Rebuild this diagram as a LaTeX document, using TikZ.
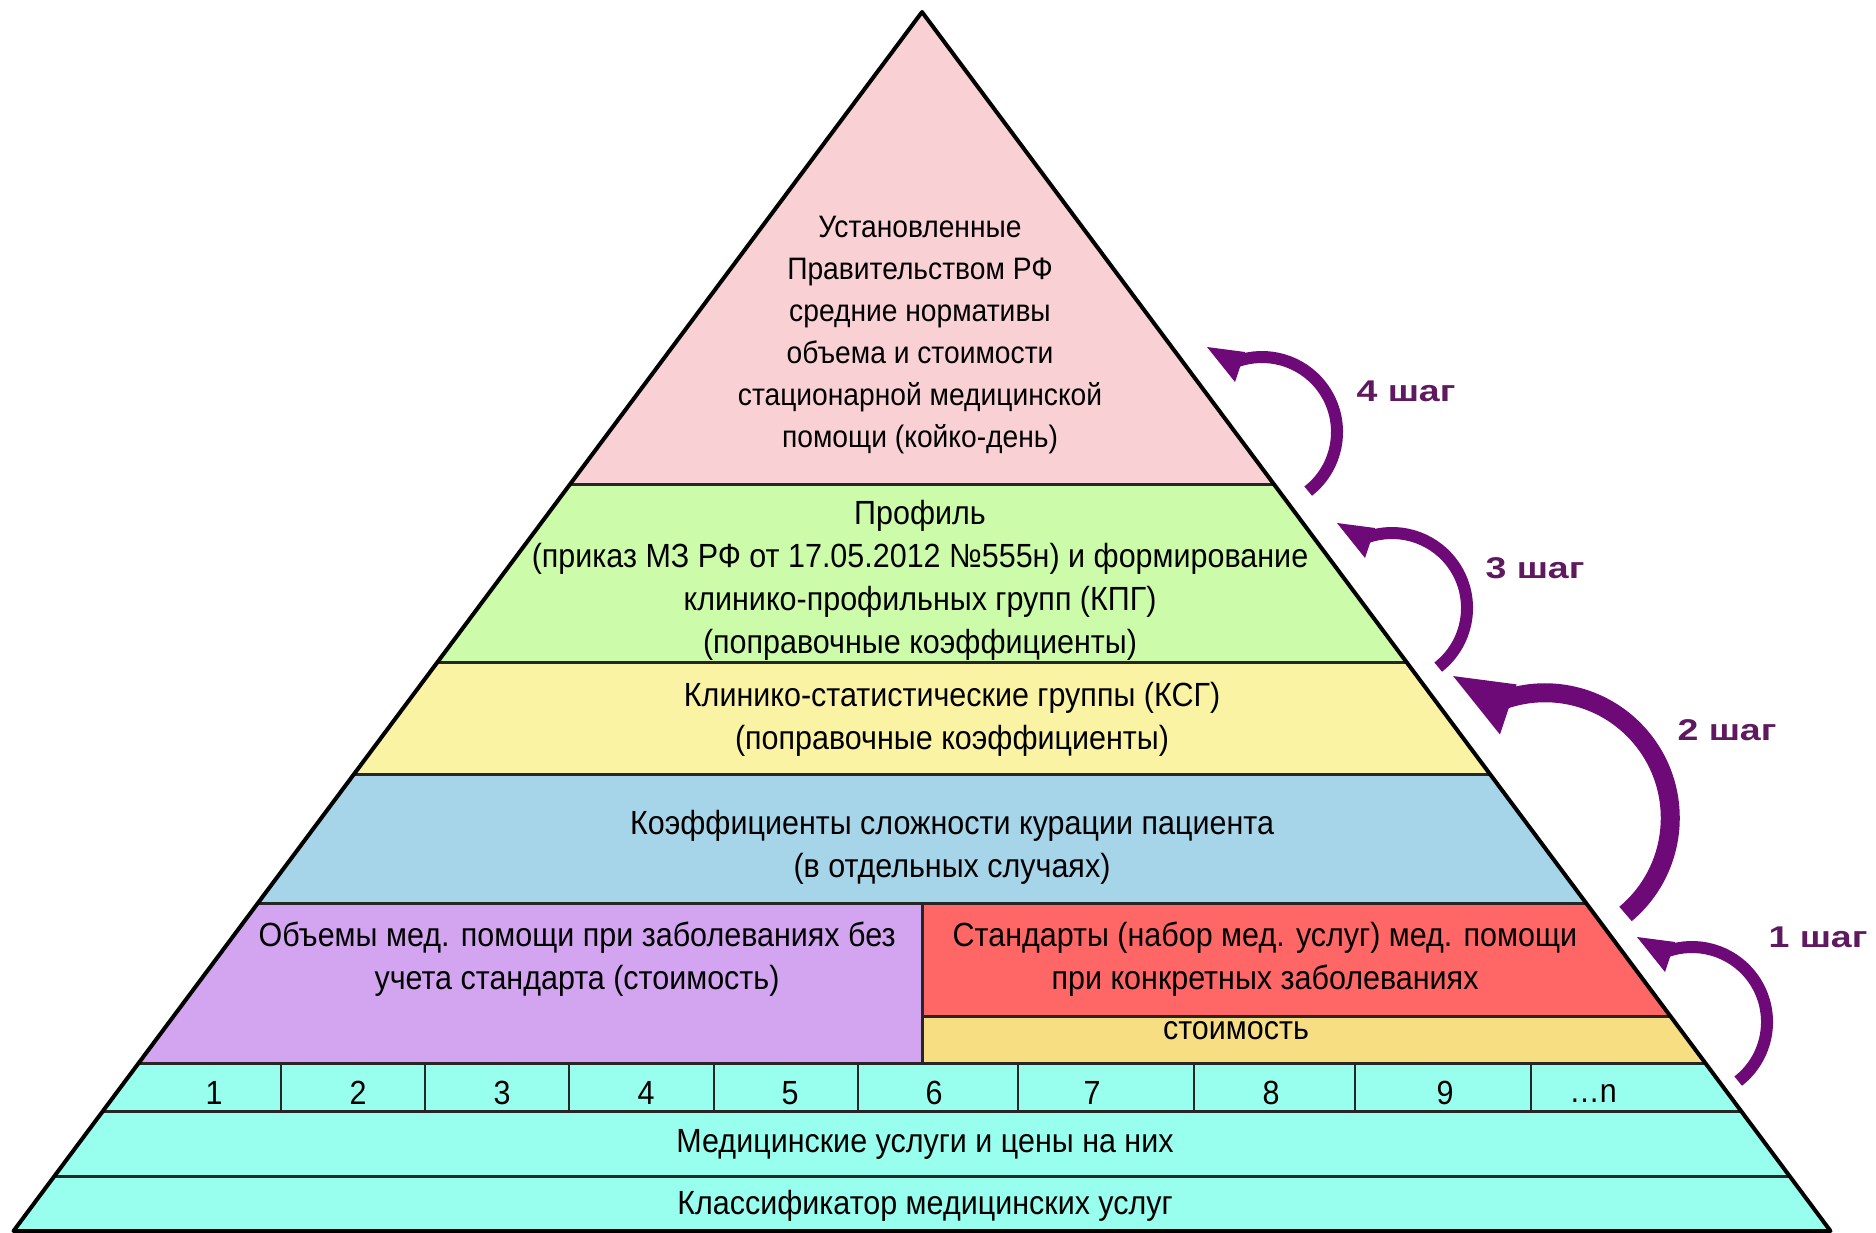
\documentclass[tikz,border=0pt]{standalone}
\usepackage{fontspec}
\setmainfont{Liberation Sans}
\newfontfamily\narrowfont[FakeStretch=0.91]{Liberation Sans}
\newfontfamily\stepfont[FakeStretch=1.25]{Liberation Sans Bold}
\usetikzlibrary{arrows.meta}
\definecolor{pinkband}{RGB}{249,208,212}
\definecolor{greenband}{RGB}{204,252,170}
\definecolor{yellowband}{RGB}{249,243,163}
\definecolor{blueband}{RGB}{166,212,232}
\definecolor{purpleband}{RGB}{211,165,241}
\definecolor{redband}{RGB}{255,102,102}
\definecolor{goldband}{RGB}{248,222,130}
\definecolor{cyanband}{RGB}{152,255,238}
\definecolor{arrowpurple}{RGB}{110,10,120}
\definecolor{steptext}{RGB}{95,25,95}
\begin{document}
\begin{tikzpicture}[x=1pt,y=-1pt,
  bandtext/.style={font=\narrowfont\fontsize{33.5}{43}\selectfont, align=center, inner sep=0pt},
  toptext/.style={font=\narrowfont\fontsize{31}{42}\selectfont, align=center, inner sep=0pt},
  steplabel/.style={font=\stepfont\fontsize{30}{32}\selectfont, text=steptext, inner sep=0pt},
  steparrow/.style={draw=arrowpurple, line width=12pt},
  headfill/.style={fill=arrowpurple},
  bandline/.style={line width=3pt, draw=black!85},
  divline/.style={line width=2.5pt, draw=black!85}]
\useasboundingbox (0,0) rectangle (1876,1233);
\fill[white] (0,0) rectangle (1876,1233);

\coordinate (apex) at (922,12);
\coordinate (bl) at (13.5,1231);
\coordinate (br) at (1830.5,1231);

\begin{scope}
  \clip (apex) -- (bl) -- (br) -- cycle;
  \fill[pinkband] (0,0) rectangle (1876,484);
  \fill[greenband] (0,484) rectangle (1876,662);
  \fill[yellowband] (0,662) rectangle (1876,774);
  \fill[blueband] (0,774) rectangle (1876,903);
  \fill[purpleband] (0,903) rectangle (922,1063);
  \fill[redband] (922,903) rectangle (1876,1016);
  \fill[goldband] (922,1016) rectangle (1876,1063);
  \fill[cyanband] (0,1063) rectangle (1876,1233);
  \foreach \yy in {484,662,774,903,1063,1111,1176}
    \draw[bandline] (0,\yy) -- (1876,\yy);
  \draw[bandline] (922,1016) -- (1876,1016);
  \draw[bandline] (922,903) -- (922,1063);
  \foreach \xx in {281,425,569,714,858,1018,1194,1355,1531}
    \draw[divline] (\xx,1063) -- (\xx,1111);
\end{scope}
\draw[line width=4pt, line join=round] (apex) -- (bl) -- (br) -- cycle;

\node[toptext] (t1) at (920,335) {Установленные\\Правительством РФ\\средние нормативы\\объема и стоимости\\стационарной медицинской\\помощи (койко-день)};
\node[bandtext] (t2) at (920,580) {Профиль\\(приказ МЗ РФ от 17.05.2012 №555н) и формирование\\клинико-профильных групп (КПГ)\\(поправочные коэффициенты)};
\node[bandtext] (t3) at (952,719) {Клинико-статистические группы (КСГ)\\(поправочные коэффициенты)};
\node[bandtext] (t4) at (952,847) {Коэффициенты сложности курации пациента\\(в отдельных случаях)};
\node[bandtext] (t5) at (577,959) {Объемы мед. помощи при заболеваниях без\\учета стандарта (стоимость)};
\node[bandtext] (t6) at (1265,959) {Стандарты (набор мед. услуг) мед. помощи\\при конкретных заболеваниях};
\node[bandtext] (t7) at (1236,1031) {стоимость};
\node[bandtext] (n1) at (214,1093) {1};
\node[bandtext] (n2) at (358,1093) {2};
\node[bandtext] (n3) at (502,1093) {3};
\node[bandtext] (n4) at (646,1093) {4};
\node[bandtext] (n5) at (790,1093) {5};
\node[bandtext] (n6) at (934,1093) {6};
\node[bandtext] (n7) at (1092,1093) {7};
\node[bandtext] (n8) at (1271,1093) {8};
\node[bandtext] (n9) at (1445,1093) {9};
\node[bandtext] (nn) at (1593,1093) {…n};
\node[bandtext] (t8) at (925,1144) {Медицинские услуги и цены на них};
\node[bandtext] (t9) at (925,1206) {Классификатор медицинских услуг};

% step arrows
\begin{scope}[shift={(1262,432)}]
  \draw[steparrow] (52:75) arc[start angle=52, end angle=-110, radius=75];
  \fill[headfill] (-55,-85) -- (-27,-50) -- (-17,-80) -- cycle;
\end{scope}
\begin{scope}[shift={(1392,608)}]
  \draw[steparrow] (52:75) arc[start angle=52, end angle=-110, radius=75];
  \fill[headfill] (-55,-85) -- (-27,-50) -- (-17,-80) -- cycle;
\end{scope}
\begin{scope}[shift={(1545,818)}, scale=1.67]
  \draw[steparrow, line width=19pt] (50:75) arc[start angle=50, end angle=-110, radius=75];
  \fill[headfill] (-55,-85) -- (-27,-50) -- (-17,-80) -- cycle;
\end{scope}
\begin{scope}[shift={(1692,1022)}]
  \draw[steparrow] (52:75) arc[start angle=52, end angle=-110, radius=75];
  \fill[headfill] (-55,-85) -- (-27,-50) -- (-17,-80) -- cycle;
\end{scope}

\node[steplabel] (s4) at (1406,391) {4 шаг};
\node[steplabel] (s3) at (1535,568) {3 шаг};
\node[steplabel] (s2) at (1727,730) {2 шаг};
\node[steplabel] (s1) at (1818,937) {1 шаг};
\end{tikzpicture}
\end{document}
